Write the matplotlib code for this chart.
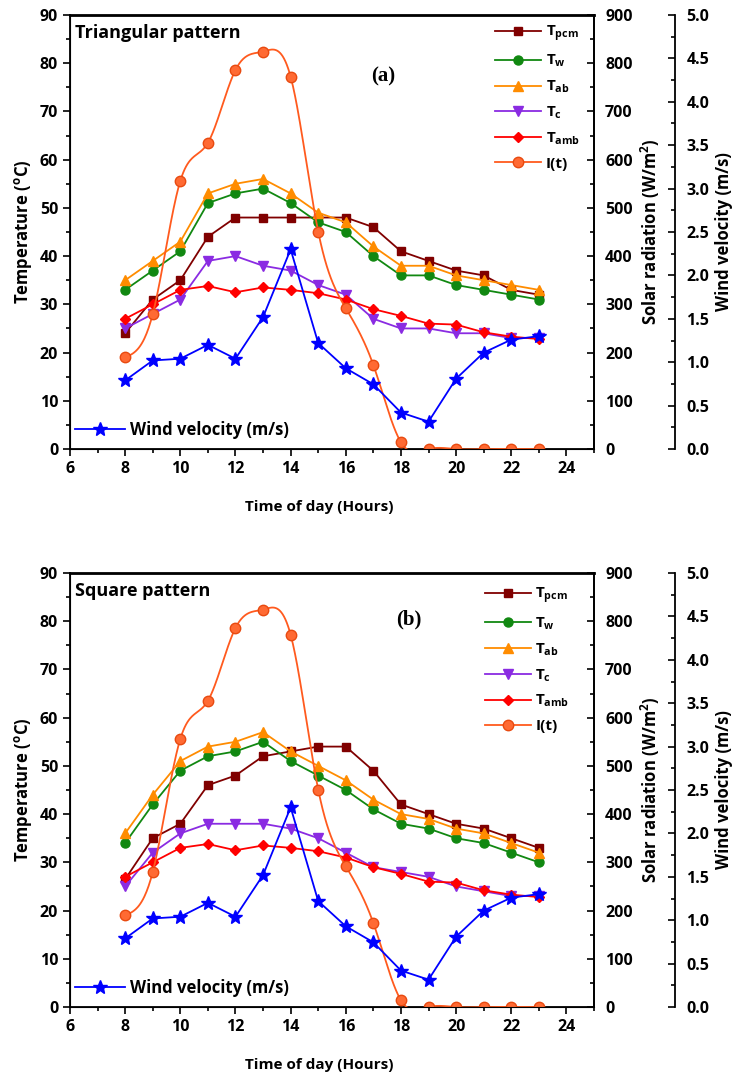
import numpy as np
import matplotlib
matplotlib.use("Agg")
import matplotlib.pyplot as plt
from matplotlib.ticker import MultipleLocator

plt.rcParams['font.family'] = ['Open Sans', 'DejaVu Sans']
plt.rcParams['font.weight'] = 'bold'
plt.rcParams['mathtext.default'] = 'regular'

hours = [8, 9, 10, 11, 12, 13, 14, 15, 16, 17, 18, 19, 20, 21, 22, 23]

# triangular pattern
tri_pcm = [24, 31, 35, 44, 48, 48, 48, 48, 48, 46, 41, 39, 37, 36, 33, 32]
tri_w = [33, 37, 41, 51, 53, 54, 51, 47, 45, 40, 36, 36, 34, 33, 32, 31]
tri_ab = [35, 39, 43, 53, 55, 56, 53, 49, 47, 42, 38, 38, 36, 35, 34, 33]
tri_c = [25, 28, 31, 39, 40, 38, 37, 34, 32, 27, 25, 25, 24, 24, 23, 23]

# square pattern
sq_pcm = [26.5, 35, 38, 46, 48, 52, 53, 54, 54, 49, 42, 40, 38, 37, 35, 33]
sq_w = [34, 42, 49, 52, 53, 55, 51, 48, 45, 41, 38, 37, 35, 34, 32, 30]
sq_ab = [36, 44, 51, 54, 55, 57, 53, 50, 47, 43, 40, 39, 37, 36, 34, 32]
sq_c = [25, 32, 36, 38, 38, 38, 37, 35, 32, 29, 28, 27, 25, 24, 23, 23]

# same weather for both runs
t_amb = [27, 30, 33, 33.8, 32.5, 33.5, 33, 32.3, 31, 29, 27.6, 26, 25.8, 24.2, 23.3, 22.8]
solar = [190, 280, 556, 635, 786, 824, 772, 451, 292, 174, 14, 0, 0, 0, 0, 0]
wind = [0.79, 1.02, 1.04, 1.2, 1.04, 1.52, 2.3, 1.22, 0.93, 0.745, 0.42, 0.315, 0.81, 1.11, 1.26, 1.3]


def smooth(x, y, n=600):
    # natural cubic spline for the I(t) connecting line
    x = np.asarray(x, float)
    y = np.asarray(y, float)
    h = np.diff(x)
    m = len(x)
    A = np.zeros((m, m))
    r = np.zeros(m)
    A[0, 0] = A[-1, -1] = 1
    for i in range(1, m - 1):
        A[i, i - 1] = h[i - 1]
        A[i, i] = 2 * (h[i - 1] + h[i])
        A[i, i + 1] = h[i]
        r[i] = 3 * ((y[i + 1] - y[i]) / h[i] - (y[i] - y[i - 1]) / h[i - 1])
    c = np.linalg.solve(A, r)
    b = (y[1:] - y[:-1]) / h - h * (2 * c[:-1] + c[1:]) / 3
    d = (c[1:] - c[:-1]) / (3 * h)
    xs = np.linspace(x[0], x[-1], n)
    k = np.clip(np.searchsorted(x, xs) - 1, 0, m - 2)
    dx = xs - x[k]
    return xs, y[k] + b[k] * dx + c[k] * dx ** 2 + d[k] * dx ** 3


def panel(rect, pcm, tw, tab, tc, title, tag, tag_xy, leg_anchor):
    ax = fig.add_axes(rect)
    ms = 6.5
    ax.plot(hours, pcm, color='#800000', marker='s', ms=ms - 0.5, lw=1.3, label=r'T$_{pcm}$')
    ax.plot(hours, tw, color='#118811', marker='o', ms=ms, lw=1.3, label=r'T$_{w}$')
    ax.plot(hours, tab, color='#ff8c00', marker='^', ms=ms + 0.5, lw=1.3, label=r'T$_{ab}$')
    ax.plot(hours, tc, color='#8a2be2', marker='v', ms=ms + 0.5, lw=1.3, label=r'T$_{c}$')
    ax.plot(hours, t_amb, color='#ff0000', marker='D', ms=ms - 1, lw=1.3, label=r'T$_{amb}$')
    # dummy handle so I(t) appears in the same legend
    ax.plot([], [], color='#ff5a1e', marker='o', ms=ms + 1, mfc='#ff6a33',
            mec='#e84a10', lw=1.3, label='I(t)')
    ax.set_xlim(6, 25)
    ax.set_ylim(0, 90)
    ax.set_xticks(range(6, 25, 2))
    ax.xaxis.set_minor_locator(MultipleLocator(1))
    ax.yaxis.set_major_locator(MultipleLocator(10))
    ax.yaxis.set_minor_locator(MultipleLocator(5))
    ax.tick_params(which='both', direction='out', labelsize=11.5, width=1.2, top=False, right=False)
    ax.tick_params(which='major', length=5)
    ax.tick_params(which='minor', length=3)
    for s in ax.spines.values():
        s.set_linewidth(1.3)
    ax.spines['top'].set_linewidth(2)
    ax.set_ylabel('Temperature ($^{o}$C)', fontsize=12, fontweight='bold', labelpad=4)
    ax.set_xlabel('Time of day (Hours)', fontsize=11, fontweight='bold')
    ax.xaxis.set_label_coords(0.475, -0.118)
    ax.text(0.01, 0.958, title, transform=ax.transAxes, fontsize=13, fontweight='bold', va='center')
    ax.text(tag_xy[0], tag_xy[1], tag, transform=ax.transAxes, fontsize=15, fontweight='bold',
            family='Liberation Serif', va='center', ha='center')
    ax.legend(loc='upper right', bbox_to_anchor=leg_anchor, frameon=False, fontsize=11,
              handlelength=3, labelspacing=0.62, handletextpad=0.3, borderaxespad=0)

    ax2 = ax.twinx()
    xs, ys = smooth(hours, solar)
    ax2.plot(xs, ys, color='#ff5a1e', lw=1.3)
    ax2.plot(hours, solar, ls='none', marker='o', ms=ms + 1, mfc='#ff6a33', mec='#e84a10')
    ax2.set_ylim(0, 900)
    ax2.yaxis.set_major_locator(MultipleLocator(100))
    ax2.yaxis.set_minor_locator(MultipleLocator(50))
    ax2.tick_params(which='both', direction='in', labelsize=11.5, width=1.2, pad=8)
    ax2.tick_params(which='major', length=5)
    ax2.tick_params(which='minor', length=3)
    ax2.spines['right'].set_linewidth(1.3)
    ax2.set_ylabel('Solar radiation (W/m$^{2}$)', fontsize=12, fontweight='bold', labelpad=4)

    ax3 = ax.twinx()
    ax3.spines['right'].set_position(('axes', 1.155))
    for side in ('top', 'bottom', 'left'):
        ax3.spines[side].set_visible(False)
    ax3.spines['right'].set_linewidth(1.3)
    ax3.plot(hours, wind, color='#0000ff', marker='*', ms=10, lw=1.3, label='Wind velocity (m/s)')
    ax3.set_ylim(0, 5)
    ax3.yaxis.set_major_locator(MultipleLocator(0.5))
    ax3.yaxis.set_minor_locator(MultipleLocator(0.25))
    ax3.yaxis.set_major_formatter('{x:.1f}')
    ax3.tick_params(which='both', direction='in', labelsize=11.5, width=1.2, pad=8)
    ax3.tick_params(which='major', length=5)
    ax3.tick_params(which='minor', length=3)
    ax3.set_ylabel('Wind velocity (m/s)', fontsize=12, fontweight='bold', labelpad=4)
    ax3.legend(loc='lower left', bbox_to_anchor=(-0.01, 0.0), frameon=False, fontsize=12,
               handlelength=3, handletextpad=0.3, borderaxespad=0.2)
    return ax


fig = plt.figure(figsize=(7.43, 10.82), dpi=100)
panel([70 / 743, 1 - 449 / 1082, 524 / 743, 434 / 1082], tri_pcm, tri_w, tri_ab, tri_c,
      'Triangular pattern', '(a)', (0.597, 0.859), (0.985, 0.995))
panel([70 / 743, 1 - 1007 / 1082, 524 / 743, 434 / 1082], sq_pcm, sq_w, sq_ab, sq_c,
      'Square pattern', '(b)', (0.647, 0.892), (0.965, 0.985))

fig.savefig('out.png', dpi=100)
